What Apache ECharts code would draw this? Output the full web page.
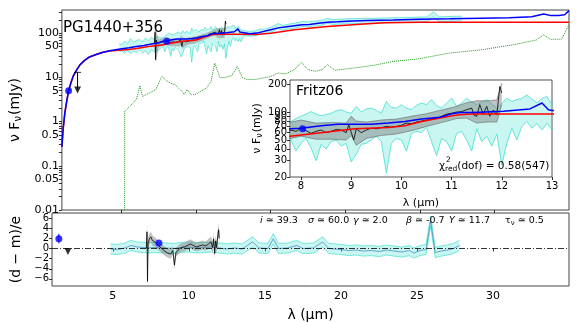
<!DOCTYPE html>
<html>
<head>
<meta charset="utf-8">
<script src="https://cdn.jsdelivr.net/npm/echarts@6/dist/echarts.min.js"></script>
<style>
html,body{margin:0;padding:0;background:#fff}
#chart{width:581px;height:323px}
</style>
</head>
<body>
<div id="chart"></div>
<script>
// ---- model curves (mJy, wavelength in micron) ----
var blueLam = [1.0,1.08,1.2,1.3,1.45,1.6,1.75,2.0,2.2,2.5,2.85,3.3,3.7,4.2,4.8,5.5,6.0,6.5,7.0,7.5,7.78,8.0,8.4,8.74,9.4,9.74,10.07,10.4,10.77,11.0,11.17,11.43,12.03,12.56,12.8,12.93,13.0,13.6,14.2,15.0,15.5,16.2,17.1,17.6,18.2,18.8,19.5,20.5,21.5,23.2,25.0,27.0,29.1,31.0,32.5,33.3,33.8,34.3,34.7,35.0];
var blueVal = [0.27,0.66,1.6,2.6,5.0,7.5,10.5,15,19,24,29,33,36.5,40,43.5,47,50,53,57,61,66,67,71,74,74,76,79,84,88,96,99,99,102,108,125,106,104,97,103,120,132,142,156,158,168,178,182,190,195,200,207,212,219,225,235,272,250,252,262,325];
var redLam = [1.0,1.08,1.2,1.3,1.45,1.6,1.75,2.0,2.2,2.5,2.85,3.3,3.7,4.2,4.8,5.5,6.0,6.5,7.0,7.78,8.4,9.07,9.74,10.07,10.4,10.77,11.1,11.37,13.0,14.0,15.0,16.6,18.8,21.0,22.6,25.0,29.1,35.0];
var redVal = [0.27,0.66,1.6,2.6,5.0,7.5,10.5,15,19,24,29,33,36.5,39.5,41,43,45,48,51,55,60,66,68,71,79,86,93,95,95,93,100,119,142,160,172,177,178,176];
var greenLam = [5.2,5.21,5.6,6.0,6.23,6.4,6.9,7.3,7.7,8.0,8.3,8.6,9.0,9.2,9.4,9.7,10.0,10.7,11.0,11.25,11.6,12.0,12.4,12.75,13.1,13.4,14.0,14.5,15.0,15.5,16.0,16.6,17.05,17.5,18.0,18.45,18.8,19.3,20.0,21.0,22.0,23.2,24.8,27.0,29.1,31.3,32.8,33.3,33.75,34.5,35.0];
var greenVal = [0.001,1.7,2.3,3.2,6.5,3.7,4.5,5.3,10.6,8.5,7.4,6.8,5.0,4.1,5.3,4.0,4.2,5.8,8.0,21,9.8,10,11,17.7,10,8.9,9.0,9.7,10.5,12.6,12,15,22,15,13.7,15,19.4,14.5,15.5,17,19,23,26,35.5,42,55,70,92,73,73,155];

// ---- observed IRS spectrum, error envelope ----
var obsLam = [4.85,5.0,5.2,5.4,5.6,5.8,6.0,6.2,6.4,6.6,6.8,7.0,7.2,7.4,7.6,
  7.8,7.9,8.0,8.1,8.2,8.3,8.4,8.5,8.6,8.7,8.8,8.9,9.0,9.1,9.2,9.3,9.4,9.5,9.6,9.7,9.8,9.9,10.0,10.1,10.2,10.3,10.4,10.5,10.6,10.7,
  10.8,10.9,11.0,11.1,11.2,11.3,11.4,11.5,11.6,11.7,11.8,11.9,12.0,12.1,12.2,12.3,12.4,12.5,12.6,12.7,12.8,12.9,13.0,
  13.2,13.6,14.0,14.3,14.6,15.0,15.5,15.8,16.2,16.6,17.1,17.5,18.0,18.4,18.8,19.2,19.8,20.5,21.2,22.0,22.8,23.6,24.4,25.0,25.5,25.9,26.3,26.8,27.3,27.8];
var obsLo = [38,40,35,41,34,39,37,42,36,40,33,42,38,40,45,
  50,38,46,52,41,30,45,40,48,50,43,46,29,35,45,46,50,55,48,22,46,52,50,38,59,62,60,68,48,34,
  52,48,38,59,62,50,38,66,48,55,43,58,27,46,67,50,70,79,67,75,64,76,64,
  88,85,88,96,95,105,126,116,125,130,142,139,146,151,167,158,162,165,167,169,172,174,176,180,180,238,181,185,186,188];
var obsHi = [58,55,66,58,75,62,68,72,64,78,68,80,72,85,78,
  79,85,90,95,101,95,91,94,97,103,106,100,97,115,100,108,110,104,97,130,112,110,120,110,106,118,125,120,136,118,
  110,125,141,115,125,141,128,120,128,136,122,110,125,141,130,136,140,153,138,125,140,147,120,
  114,110,114,125,122,136,165,150,161,168,184,180,189,196,216,204,209,214,216,218,222,225,228,232,233,305,234,238,241,243];

// ---- Fritz06 spectrum ----
var blkLam = [7.2,7.25,7.28,7.32,7.4,7.5,7.6,7.7,7.8,7.9,8.0,8.1,8.2,8.3,8.4,8.5,8.6,8.7,8.8,8.9,8.95,9.05,9.1,9.2,9.3,9.4,9.5,9.6,9.7,9.8,9.9,10.0,10.1,10.2,10.3,10.4,10.5,10.6,10.7,10.8,10.9,11.0,11.1,11.2,11.3,11.4,11.45,11.5,11.56,11.63,11.7,11.76,11.83,11.9,11.96,12.0];
var blkVal = [60,108,25,70,60,58,62,60,64,62,67,63,59,62,64,60,62,65,64,60,73,50,66,60,64,67,66,68,70,69,70,72,76,75,78,80,82,84,86,90,95,97,100,101,106,110,92,90,120,95,115,90,105,93,188,160];
var greyLam = [7.2,7.3,7.5,7.8,8.0,8.3,8.6,8.9,9.0,9.1,9.3,9.6,9.9,10.2,10.5,10.8,11.1,11.3,11.5,11.7,11.9,12.0];
var greyLo = [45,22,48,52,55,51,51,50,56,44,52,56,58,63,70,77,85,86,76,78,78,120];
var greyHi = [85,115,72,78,82,76,77,76,90,80,78,82,84,90,96,105,115,126,132,132,135,205];

// ---- photometry ----
var photLam = [1.45], photVal = [5.0];
var ulLam = [2.05], ulVal = [13], ulEnd = [5.2];
var irsPtLam = [8.03], irsPtVal = [66];

// ---- residuals (d-m)/e ----
var resLam = [4.85,5.3,5.8,6.2,6.6,7.0,7.3,7.8,8.5,9.0,9.5,10.0,10.5,11.0,11.5,12.0,12.5,13.0,13.5,14.2,14.6,15.2,15.55,15.9,16.5,17.1,17.5,18.2,18.8,19.2,20.0,20.5,21.0,21.5,22.0,22.5,23.0,23.5,24.0,24.5,24.8,25.2,25.6,25.9,26.2,26.6,27.0,27.4,27.8];
var resMid = [-0.1,-0.2,0.1,0.6,0.3,0.2,0.1,0.2,0.1,0.0,0.2,0.3,0.1,0.2,0.3,0.1,-0.1,0.1,-0.1,1.3,0.1,0.0,1.9,0.0,0.1,0.6,0.0,0.1,1.3,0.0,-0.2,-0.4,-0.3,-0.5,-0.4,-0.6,-0.3,-0.5,-0.7,-0.4,-0.9,-0.4,-0.2,5.4,-0.8,-0.5,-0.3,0.0,0.6];
var resLo = [-1.1,-1.2,-0.9,-0.4,-0.7,-0.8,-0.9,-0.8,-0.9,-1.0,-0.8,-0.7,-0.9,-0.8,-0.7,-0.9,-1.1,-0.9,-1.1,0.3,-0.9,-1.0,0.9,-1.0,-0.9,-0.4,-1.0,-0.9,0.3,-1.0,-1.2,-1.4,-1.3,-1.5,-1.4,-1.6,-1.3,-1.5,-1.7,-1.4,-1.9,-1.4,-1.2,4.4,-1.8,-1.5,-1.3,-1.0,-0.4];
var resHi = [0.9,0.8,1.1,1.6,1.3,1.2,1.1,1.2,1.1,1.0,1.2,1.3,1.1,1.2,1.3,1.1,0.9,1.1,0.9,2.3,1.1,1.0,2.9,1.0,1.1,1.6,1.0,1.1,2.3,1.0,0.8,0.6,0.7,0.5,0.6,0.4,0.7,0.5,0.3,0.6,0.1,0.6,0.8,6.4,0.2,0.5,0.7,1.0,1.6];
var resBlkLam = [7.2,7.25,7.28,7.32,7.4,7.5,7.6,7.8,8.0,8.2,8.4,8.6,8.8,8.95,9.05,9.15,9.3,9.5,9.7,9.9,10.1,10.3,10.5,10.7,10.9,11.1,11.3,11.45,11.56,11.63,11.7,11.76,11.83,11.9,11.96,12.0];
var resBlk = [0.0,3.3,-6.5,1.0,1.9,2.3,1.6,1.2,0.6,0.0,-0.5,-0.9,-1.1,-0.4,-3.3,-0.8,-0.3,0.2,0.3,0.6,0.9,0.6,0.3,0.5,0.7,0.5,0.9,1.3,0.2,1.9,-1.0,1.5,0.2,2.5,3.7,2.0];
var resBlkLo = [-1.0,1.8,-7.2,-0.2,0.9,1.3,0.6,0.3,-0.3,-0.9,-1.4,-1.8,-2.0,-1.3,-4.2,-1.7,-1.2,-0.7,-0.6,-0.3,0.0,-0.3,-0.6,-0.4,-0.2,-0.4,-0.1,0.2,-0.9,0.8,-2.1,0.4,-0.9,1.3,2.4,0.8];
var resBlkHi = [1.0,4.8,-5.0,2.2,2.9,3.3,2.6,2.1,1.5,0.9,0.4,0.0,-0.2,0.5,-2.4,0.1,0.6,1.1,1.2,1.5,1.8,1.5,1.2,1.4,1.6,1.4,1.9,2.4,1.3,3.0,0.1,2.6,1.3,3.7,5.0,3.2];
var photRes = [1.9], photResLo = [1.0], photResHi = [2.9];
var ulRes = [-0.6];
var irsPtRes = [1.1];

// ---- ticks ----
var xTicks = [5,10,15,20,25,30];
var mainYLabels = [0.01,0.05,0.1,0.5,1,5,10,50,100];
var resYTicks = [-6,-4,-2,0,2,4,6];
var insetXTicks = [8,9,10,11,12,13];
var insetYLabels = [20,30,40,50,60,70,80,90,100,200];

var FONT = '"DejaVu Sans", sans-serif';
var mainYTicks = [];
[0.01,0.1,1,10,100].forEach(function(d){ for (var k=1;k<10;k++){ if (d*k<=335) mainYTicks.push(+(d*k).toPrecision(2)); } });

function pairs(xs, ys){ return xs.map(function(x,i){ return [x, ys[i]]; }); }

function ln(xi, xs, ys, color, width, z, dash){
    return {
        type:'line', xAxisIndex:xi, yAxisIndex:xi, data:pairs(xs, ys),
        symbol:'none', z:z, silent:true, clip:true,
        lineStyle:{color:color, width:width, type:dash || 'solid'}
    };
}

function band(xi, xs, lo, hi, fill, z){
    return {
        type:'custom', xAxisIndex:xi, yAxisIndex:xi, z:z, clip:true, silent:true,
        data: xs.map(function(x,i){ return [x, lo[i], hi[i]]; }),
        encode:{x:0, y:[1,2]},
        renderItem:function(params, api){
            if (params.dataIndex !== 0) return;
            var pts = [];
            for (var i=0;i<xs.length;i++) pts.push(api.coord([xs[i], hi[i]]));
            for (var j=xs.length-1;j>=0;j--) pts.push(api.coord([xs[j], lo[j]]));
            return {type:'polygon', shape:{points:pts}, style:{fill:fill}};
        }
    };
}

function dots(xi, xs, ys, color, symbol, size, z, rot){
    return {
        type:'scatter', xAxisIndex:xi, yAxisIndex:xi, data:pairs(xs, ys),
        symbol:symbol, symbolSize:size, symbolRotate:rot || 0, z:z, silent:true,
        itemStyle:{color:color}
    };
}

var CYAN = '#40e0d0', CYANFILL = 'rgba(64,224,208,0.28)';
var GREYFILL = 'rgba(120,120,120,0.45)';

var fmtNum = function(v){ return (+(+v).toPrecision(3)) + ''; };
var fmtMinus = function(v){ return (v < 0 ? '\u2212' + (-v) : '' + v); };

var tickStyle = {color:'#000', width:0.8};

function txt(x, y, s, size, rich){
    return {type:'text', x:x, y:y, z:100,
        style:{text:s, font:size + 'px "DejaVu Sans"', fill:'#000', verticalAlign:'middle', rich:rich || {}}};
}
var itRich = {i:{fontStyle:'italic', fontSize:9.5, fontFamily:FONT}};

var option = {
    animation:false,
    backgroundColor:'#fff',
    grid:[
        {left:52, top:10, width:517, height:200, show:true, backgroundColor:'#fff', borderColor:'#444', borderWidth:1},
        {left:52, top:213, width:517, height:77, show:true, backgroundColor:'#fff', borderColor:'#444', borderWidth:1},
        {left:290, top:80, width:262, height:97, show:true, backgroundColor:'#fff', borderColor:'#555', borderWidth:1, z:10}
    ],
    xAxis:[
        {gridIndex:0, type:'value', min:1, max:35, axisLine:{show:false}, splitLine:{show:false},
         axisLabel:{show:false, customValues:xTicks},
         axisTick:{show:true, customValues:xTicks, length:3, lineStyle:tickStyle}},
        {gridIndex:1, type:'value', min:1, max:35, axisLine:{show:false}, splitLine:{show:false},
         axisLabel:{customValues:xTicks, fontSize:11, color:'#000', fontFamily:FONT, margin:5},
         axisTick:{customValues:xTicks, length:3, lineStyle:tickStyle},
         name:'\u03bb (\u03bcm)', nameLocation:'middle', nameGap:22,
         nameTextStyle:{fontSize:14, color:'#000', fontFamily:FONT}},
        {gridIndex:2, type:'value', min:7.78, max:13, z:12, axisLine:{show:false}, splitLine:{show:false},
         axisLabel:{customValues:insetXTicks, fontSize:10, color:'#000', fontFamily:FONT, margin:4},
         axisTick:{customValues:insetXTicks, length:3, lineStyle:tickStyle},
         name:'\u03bb (\u03bcm)', nameLocation:'middle', nameGap:21,
         nameTextStyle:{fontSize:11, color:'#000', fontFamily:FONT}}
    ],
    yAxis:[
        {gridIndex:0, type:'log', logBase:10, min:0.01, max:335, axisLine:{show:false}, splitLine:{show:false},
         axisLabel:{customValues:mainYLabels, formatter:fmtNum, fontSize:11, color:'#000', fontFamily:FONT, margin:3},
         axisTick:{customValues:mainYTicks, length:3, lineStyle:tickStyle},
         name:'{a|\u03bd F}{s|\u03bd}{a|(mJy)}', nameLocation:'middle', nameGap:34,
         nameTextStyle:{color:'#000', fontFamily:FONT, rich:{
            a:{fontSize:14, fontFamily:FONT, color:'#000'},
            s:{fontSize:10, fontFamily:FONT, color:'#000', padding:[7,1,0,0]}}}},
        {gridIndex:1, type:'value', min:-7.4, max:7, axisLine:{show:false}, splitLine:{show:false},
         axisLabel:{customValues:resYTicks, formatter:fmtMinus, fontSize:10, color:'#000', fontFamily:FONT, margin:3,
                    showMinLabel:true, showMaxLabel:true, hideOverlap:false},
         axisTick:{customValues:resYTicks, length:3, lineStyle:tickStyle},
         name:'(d \u2212 m)/e', nameLocation:'middle', nameGap:28,
         nameTextStyle:{fontSize:14, color:'#000', fontFamily:FONT}},
        {gridIndex:2, type:'log', logBase:10, min:20, max:221, z:12, axisLine:{show:false}, splitLine:{show:false},
         axisLabel:{customValues:insetYLabels, formatter:fmtNum, fontSize:10, color:'#000', fontFamily:FONT, margin:3},
         axisTick:{customValues:insetYLabels, length:3, lineStyle:tickStyle},
         name:'{a|\u03bd F}{s|\u03bd}{a|(mJy)}', nameLocation:'middle', nameGap:24,
         nameTextStyle:{color:'#000', fontFamily:FONT, rich:{
            a:{fontSize:11, fontFamily:FONT, color:'#000'},
            s:{fontSize:8, fontFamily:FONT, color:'#000', padding:[6,1,0,0]}}}}
    ],
    series:[
        // main panel
        band(0, obsLam, obsLo, obsHi, CYANFILL, 2),
        ln(0, obsLam, obsLo, CYAN, 0.7, 2),
        ln(0, obsLam, obsHi, CYAN, 0.7, 2),
        ln(0, greenLam, greenVal, '#1f9a1f', 1, 3, 'dotted'),
        band(0, greyLam, greyLo, greyHi, GREYFILL, 3),
        ln(0, blkLam, blkVal, '#000', 0.8, 4),
        ln(0, redLam, redVal, '#ff0000', 1.5, 5),
        ln(0, blueLam, blueVal, '#0000ff', 1.5, 6),
        dots(0, photLam, photVal, '#0000ff', 'circle', 7, 7),
        dots(0, irsPtLam, irsPtVal, '#0000ff', 'circle', 7, 7),
        {type:'line', xAxisIndex:0, yAxisIndex:0, z:7, silent:true, symbol:'none',
         data:[[ulLam[0], ulVal[0]], [ulLam[0], ulEnd[0]]], lineStyle:{color:'#000', width:1}},
        dots(0, ulLam, ulVal, '#000', 'rect', [7,1], 7),
        dots(0, ulLam, ulEnd, '#000', 'triangle', 7, 7, 180),

        // residual panel
        band(1, resLam, resLo, resHi, CYANFILL, 2),
        ln(1, resLam, resLo, CYAN, 0.7, 2),
        ln(1, resLam, resHi, CYAN, 0.7, 2),
        ln(1, resLam, resMid, '#4a8cc4', 0.8, 3),
        band(1, resBlkLam, resBlkLo, resBlkHi, GREYFILL, 4),
        ln(1, resBlkLam, resBlk, '#000', 0.8, 5),
        {type:'line', xAxisIndex:1, yAxisIndex:1, z:6, silent:true, symbol:'none',
         data:[[photLam[0], photResLo[0]], [photLam[0], photResHi[0]]], lineStyle:{color:'#0000ff', width:1}},
        dots(1, photLam, photRes, '#0000ff', 'circle', 7, 7),
        dots(1, irsPtLam, irsPtRes, '#0000ff', 'circle', 7, 7),
        (function(){
            var s = dots(1, ulLam, ulRes, '#000', 'triangle', 7, 8, 180);
            s.markLine = {silent:true, symbol:'none', label:{show:false},
                lineStyle:{color:'#000', width:0.8, type:[6,2,1,2]}, data:[{yAxis:0}]};
            return s;
        })(),

        // inset
        band(2, obsLam, obsLo, obsHi, CYANFILL, 11),
        ln(2, obsLam, obsLo, CYAN, 0.8, 11),
        ln(2, obsLam, obsHi, CYAN, 0.8, 11),
        band(2, greyLam, greyLo, greyHi, GREYFILL, 12),
        ln(2, greyLam, greyLo, '#666', 0.6, 12),
        ln(2, greyLam, greyHi, '#666', 0.6, 12),
        ln(2, blkLam, blkVal, '#000', 0.8, 13),
        ln(2, redLam, redVal, '#ff0000', 1.5, 14),
        ln(2, blueLam, blueVal, '#0000ff', 1.5, 15),
        dots(2, irsPtLam, irsPtVal, '#0000ff', 'circle', 7, 16)
    ],
    graphic:[
        txt(63, 28, 'PG1440+356', 15),
        txt(296, 91, 'Fritz06', 14),
        txt(439, 166, '\u03c7{s|red}(dof) = 0.58(547)', 10.5, {s:{fontSize:7.5, fontFamily:FONT, padding:[6,0,0,0]}}),
        txt(446, 160, '2', 7.5),
        txt(260, 221, '{i|i} \u2243 39.3', 9.5, itRich),
        txt(308, 221, '{i|\u03c3} \u2243 60.0', 9.5, itRich),
        txt(353, 221, '{i|\u03b3} \u2243 2.0', 9.5, itRich),
        txt(406, 221, '{i|\u03b2} \u2243 -0.7', 9.5, itRich),
        txt(449, 221, '{i|Y} \u2243 11.7', 9.5, itRich),
        txt(505, 221, '\u03c4{s|\u03bd} \u2243 0.5', 9.5, {s:{fontSize:7, fontFamily:FONT, padding:[5,0,0,0]}})
    ]
};

var chart = echarts.init(document.getElementById('chart'));
chart.setOption(option);
</script>
</body>
</html>
